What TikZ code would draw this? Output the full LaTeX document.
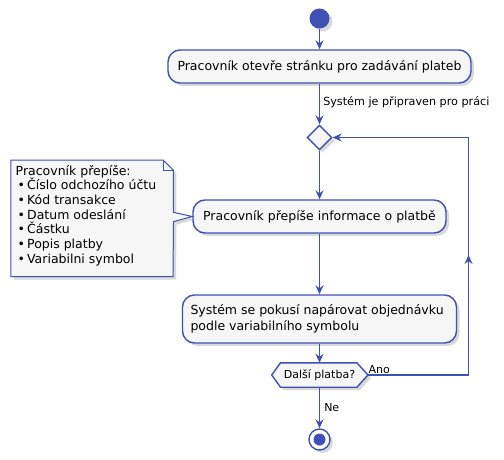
\documentclass[tikz,border=0pt]{standalone}
\usepackage{fontspec}
\setmainfont{DejaVu Sans}
\usetikzlibrary{shapes.geometric,shadows,arrows.meta,calc}
\definecolor{umlblue}{HTML}{3F51B5}
\definecolor{umlfill}{HTML}{F6F6F6}
\tikzset{
  shade/.style={drop shadow={shadow xshift=3pt,shadow yshift=-3pt,opacity=0.3,fill=gray}},
  actbox/.style={draw=umlblue,line width=1.4pt,fill=umlfill,rounded corners=12pt,shade,inner sep=0pt,font=\fontsize{12.5}{16}\selectfont},
  flow/.style={draw=umlblue,line width=1.5pt,-{Stealth[length=9pt,width=8pt,inset=3pt]}},
  flowline/.style={draw=umlblue,line width=1.5pt},
  lbl/.style={font=\fontsize{11}{13}\selectfont,inner sep=0pt},
}
\begin{document}
\begin{tikzpicture}[x=1pt,y=-1pt]
\useasboundingbox (0,0) rectangle (504,460);
% start
\node[circle,fill=umlblue,minimum size=20pt,inner sep=0pt,shade] (start) at (319.5,18.5) {};
% box 1
\node[actbox,minimum width=303pt,minimum height=33pt] (b1) at (319.5,66.5) {Pracovník otevře stránku pro zadávání plateb};
% diamond
\node[diamond,draw=umlblue,line width=1.4pt,fill=umlfill,minimum width=25pt,minimum height=25pt,inner sep=0pt,shade] (dec) at (319.5,137.5) {};
% box 2
\node[actbox,minimum width=253pt,minimum height=33pt] (b2) at (319.5,216.5) {Pracovník přepíše informace o platbě};
% box 3
\node[actbox,minimum width=274pt,minimum height=48pt,align=left] (b3) at (319.5,319) {\parbox{258pt}{Systém se pokusí napárovat objednávku\\podle variabilního symbolu}};
% hexagon
\node[minimum width=76pt,minimum height=24pt,inner sep=0pt] (hex) at (318.7,375) {};
\coordinate (hexr) at (368,375);
\coordinate (hexl) at (271.7,375);
\filldraw[draw=umlblue,line width=1.4pt,fill=umlfill,shade] (hex.north west) -- (hex.north east) -- (hexr) -- (hex.south east) -- (hex.south west) -- (hexl) -- cycle;
\node[font=\fontsize{11}{13}\selectfont,inner sep=0pt] (hext) at (319.5,375.5) {Další platba?};
% end
\node[circle,draw=umlblue,line width=1.4pt,fill=white,minimum size=21pt,inner sep=0pt,shade] (end) at (319.5,439.5) {};
\node[circle,fill=umlblue,minimum size=12pt,inner sep=0pt] (endin) at (end.center) {};
% note
\node[minimum width=162pt,minimum height=116pt,inner sep=0pt] (note) at (92,218.3) {};
\coordinate (w1) at (173.3,212.3);
\coordinate (w2) at (173.3,221.7);
\coordinate (f1) at (163,160);
\coordinate (f2) at (173.3,170);
\filldraw[draw=umlblue,line width=1pt,fill=umlfill,shade] (note.north west) -- (f1) -- (f2) -- (w1) -- (b2.west) -- (w2) -- (note.south east) -- (note.south west) -- cycle;
\draw[umlblue,line width=1pt] (f1) |- (f2);
\node[anchor=north west,inner sep=0pt,align=left,font=\fontsize{12.5}{14.7}\selectfont] (notetext) at (15.5,165) {Pracovník přepíše:\\
\hspace*{2pt}\textbullet\,Číslo odchozího účtu\\
\hspace*{2pt}\textbullet\,Kód transakce\\
\hspace*{2pt}\textbullet\,Datum odeslání\\
\hspace*{2pt}\textbullet\,Částku\\
\hspace*{2pt}\textbullet\,Popis platby\\
\hspace*{2pt}\textbullet\,Variabilni symbol};
% flows
\draw[flow] (start) -- (b1);
\draw[flow] (b1) -- (dec) node[lbl,font=\fontsize{11.2}{13}\selectfont,pos=0.45,anchor=west,xshift=3pt] (l1) {Systém je připraven pro práci};
\draw[flow] (dec) -- (b2);
\draw[flow] (b2) -- (b3);
\draw[flow] (b3) -- (hex.north -| b3);
\draw[flow] (hex.south -| b3) -- (end) node[lbl,midway,anchor=west,xshift=4pt] (l2) {Ne};
\coordinate (c1) at (468.5,375);
\coordinate (c2) at (468.5,137.5);
\coordinate (cm) at (468.5,255);
\draw[flowline] (hexr) -- (c1) -- (c2) -- (dec.east);
\draw[flow] (c1) -- (cm);
\draw[flow] (c2) -- (dec.east);
\node[lbl,anchor=south west] (l3) at (368.5,373.5) {Ano};
\end{tikzpicture}
\end{document}
